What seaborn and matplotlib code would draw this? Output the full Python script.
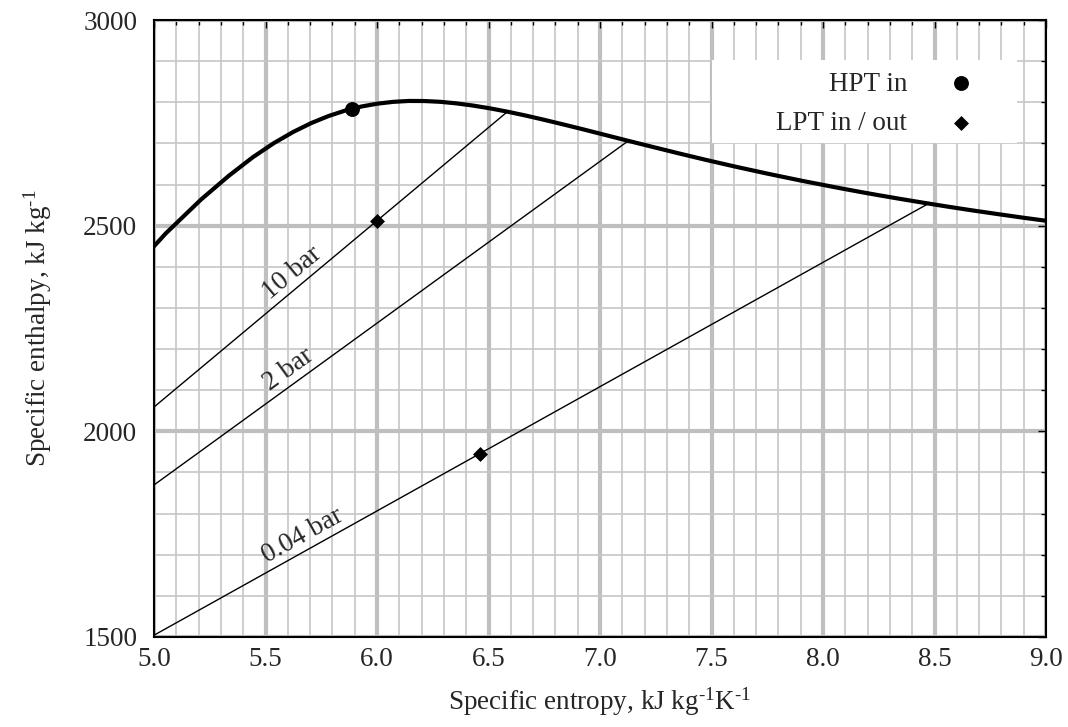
import numpy as np
import pandas as pd
import matplotlib
matplotlib.use("Agg")
import matplotlib.pyplot as plt
from matplotlib.patches import Rectangle
from matplotlib.ticker import MultipleLocator
import seaborn as sns

# saturated vapour line (s, h)
sat_s = [4.8012, 5.0536, 5.2110, 5.3356, 5.4422, 5.5372, 5.6244, 5.7059, 5.7834,
         5.8579, 5.9304, 6.0016, 6.0721, 6.1423, 6.2128, 6.2840, 6.3563, 6.4302,
         6.5059, 6.5841, 6.6650, 6.7491, 6.8371, 6.9294, 7.0264, 7.1292, 7.2388,
         7.3544, 7.4781, 7.6111, 7.7540, 7.9081, 8.0748, 8.1633, 8.2555, 8.3517,
         8.4520, 8.5567, 8.6661, 8.7803, 8.8999, 9.0249, 9.1556]
sat_h = [2332.7, 2481.6, 2563.6, 2621.3, 2666.0, 2700.6, 2727.9, 2749.6, 2766.7,
         2779.9, 2789.7, 2796.6, 2801.0, 2803.2, 2803.0, 2801.1, 2797.3, 2792.0,
         2785.3, 2777.2, 2767.9, 2757.4, 2745.9, 2733.5, 2720.1, 2705.9, 2691.1,
         2675.6, 2659.5, 2643.0, 2626.1, 2608.8, 2591.3, 2582.4, 2573.5, 2564.6,
         2555.6, 2546.5, 2537.4, 2528.4, 2519.2, 2510.1, 2500.9]

# isobars in the wet region: start at s = 5.0, end on the vapour line
isobar_names = ["10 bar", "2 bar", "0.04 bar"]
isobar_s = [[5.0, 6.585], [5.0, 7.127], [5.0, 8.473]]
isobar_h = [[2059.0, 2777.1], [1869.6, 2706.3], [1504.3, 2553.7]]
label_s = [5.66, 5.64, 5.70]

# turbine points
hpt_s = [5.89]
hpt_h = [2784.6]
lpt_s = [6.0, 6.46]
lpt_h = [2511.0, 1945.0]

sns.set_theme(style="white")
plt.rcParams["font.family"] = ["Liberation Serif", "DejaVu Serif"]
plt.rcParams["mathtext.fontset"] = "custom"
plt.rcParams["mathtext.rm"] = "Liberation Serif"
plt.rcParams["mathtext.default"] = "rm"

fig = plt.figure(figsize=(10.68, 7.27), dpi=100)
ax = fig.add_axes([154 / 1068, 1 - 637 / 727, 892 / 1068, 617 / 727])
ax.set_xlim(5.0, 9.0)
ax.set_ylim(1500, 3000)

ax.xaxis.set_major_locator(MultipleLocator(0.5))
ax.xaxis.set_minor_locator(MultipleLocator(0.1))
ax.yaxis.set_major_locator(MultipleLocator(500))
ax.yaxis.set_minor_locator(MultipleLocator(100))
ax.xaxis.set_major_formatter(matplotlib.ticker.FormatStrFormatter("%.1f"))

ax.set_axisbelow(True)
ax.grid(which="major", color="#bfbfbf", linewidth=3.0)
ax.grid(which="minor", color="#c6c6c6", linewidth=1.2)

ax.tick_params(which="both", direction="in", top=True, right=True,
               color="black", width=1.0, labelsize=19.5)
ax.tick_params(which="major", length=6)
ax.tick_params(which="minor", length=3.5)
ax.tick_params(axis="x", pad=7)
ax.tick_params(axis="y", pad=12)
for sp in ax.spines.values():
    sp.set_color("black")
    sp.set_linewidth(1.5)

# legend background
ax.add_patch(Rectangle((0.6256, 0.8006), 0.3419, 0.1344, transform=ax.transAxes,
                       facecolor="white", edgecolor="none", zorder=1))

for name, xs, ys in zip(isobar_names, isobar_s, isobar_h):
    sns.lineplot(x=xs, y=ys, ax=ax, color="black", linewidth=1.0,
                 estimator=None, sort=False, zorder=2)

sat = pd.DataFrame({"s": sat_s, "h": sat_h})
sns.lineplot(data=sat, x="s", y="h", ax=ax, color="black", linewidth=3.0,
             estimator=None, sort=False, zorder=3)

sns.scatterplot(x=hpt_s, y=hpt_h, ax=ax, marker="o", s=115, color="black",
                linewidth=0, label="HPT in", zorder=4)
sns.scatterplot(x=lpt_s, y=lpt_h, ax=ax, marker="D", s=58, color="black",
                linewidth=0, label="LPT in / out", zorder=4)

# isobar labels, rotated along the lines
fig.canvas.draw()
for name, xs, ys, ls in zip(isobar_names, isobar_s, isobar_h, label_s):
    p1 = ax.transData.transform((xs[0], ys[0]))
    p2 = ax.transData.transform((xs[1], ys[1]))
    ang = np.degrees(np.arctan2(p2[1] - p1[1], p2[0] - p1[0]))
    slope = (ys[1] - ys[0]) / (xs[1] - xs[0])
    yl = ys[0] + slope * (ls - xs[0])
    d = 10.5
    ax.annotate(name, xy=(ls, yl),
                xytext=(-np.sin(np.radians(ang)) * d, np.cos(np.radians(ang)) * d),
                textcoords="offset points", rotation=ang, rotation_mode="anchor",
                ha="center", va="center", fontsize=19.5, zorder=5)

leg = ax.legend(loc="center right", bbox_to_anchor=(0.920, 0.8639),
                frameon=False, markerfirst=False, fontsize=19.5,
                handlelength=1.0, handletextpad=1.5, labelspacing=0.55,
                borderpad=0, borderaxespad=0, scatterpoints=1)

ax.set_xlabel(r"Specific entropy, kJ kg$^{\text{-1}}$K$^{\text{-1}}$", fontsize=19.5, labelpad=10)
ax.set_ylabel(r"Specific enthalpy, kJ kg$^{\text{-1}}$", fontsize=19.5, labelpad=21)

fig.savefig("out.png", dpi=100)
